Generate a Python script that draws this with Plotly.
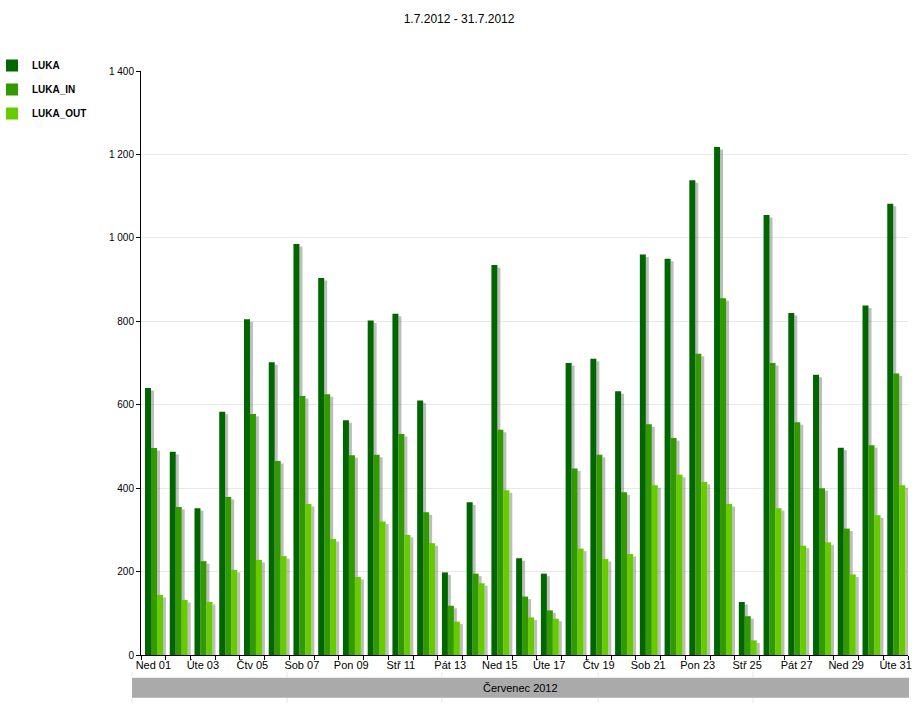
import plotly.graph_objects as go

days = list(range(1, 32))
day_labels = ["Ned 01", "Úte 03", "Čtv 05", "Sob 07", "Pon 09", "Stř 11", "Pát 13", "Ned 15",
              "Úte 17", "Čtv 19", "Sob 21", "Pon 23", "Stř 25", "Pát 27", "Ned 29", "Úte 31"]
label_days = list(range(1, 32, 2))

luka = [640, 487, 352, 583, 805, 702, 985, 904, 563, 802, 818, 610, 198, 366, 935, 232,
        195, 700, 710, 632, 960, 950, 1138, 1218, 127, 1055, 820, 672, 497, 838, 1082]
luka_in = [496, 355, 225, 379, 578, 465, 621, 625, 479, 480, 530, 342, 118, 195, 540, 140,
           107, 447, 480, 390, 553, 520, 722, 855, 93, 700, 558, 400, 303, 503, 675]
luka_out = [144, 132, 127, 204, 228, 237, 362, 278, 187, 320, 288, 268, 80, 172, 395, 90,
            87, 255, 230, 242, 407, 432, 415, 362, 35, 352, 262, 270, 193, 335, 407]

series = [("LUKA", luka, "#006600", -0.338),
          ("LUKA_IN", luka_in, "#339900", -0.096),
          ("LUKA_OUT", luka_out, "#66cc00", 0.146)]
BW = 0.2425

fig = go.Figure()
for name, vals, color, off in series:
    fig.add_trace(go.Bar(
        x=days, y=[max(v - 6, 0) for v in vals], width=0.12, offset=off + BW,
        marker=dict(color="rgba(90,90,90,0.4)", line=dict(width=0)),
        showlegend=False, hoverinfo="skip"))
    fig.add_trace(go.Bar(
        x=days, y=vals, name=name, width=BW, offset=off, legendgroup=name,
        marker=dict(color=color, line=dict(width=0))))

h = 584.0
w = 767.0
fig.update_layout(
    width=920, height=718,
    margin=dict(l=141, r=12, t=71, b=63, autoexpand=False),
    barmode="overlay",
    plot_bgcolor="white", paper_bgcolor="white",
    separators=", ",
    font=dict(family="Liberation Sans, Arial, sans-serif", size=11, color="#000"),
    title=dict(text="1.7.2012 - 31.7.2012", x=0.499, xanchor="center",
               y=1 - 19 / 718, yanchor="middle", yref="container",
               font=dict(size=12, color="#000")),
    legend=dict(x=(-141 - 8) / w, xanchor="left", y=1 + 20 / h, yanchor="top",
                font=dict(size=10, color="#000", family="Liberation Sans, Arial, sans-serif",
                          weight="bold"),
                tracegroupgap=5, bgcolor="rgba(0,0,0,0)", itemwidth=30),
    xaxis=dict(range=[0.5, 31.5], tickmode="array", tickvals=label_days, ticktext=day_labels,
               ticks="", showgrid=False, zeroline=False,
               showline=True, linecolor="#000", linewidth=1,
               tickfont=dict(size=11),
               minor=dict(tickmode="array", tickvals=[d + 0.5 for d in range(0, 32)],
                          ticks="outside", ticklen=4, tickcolor="#000", showgrid=False)),
    yaxis=dict(range=[0, 1400], dtick=200, tick0=0, separatethousands=True,
               showgrid=True, gridcolor="#e8e8e8", gridwidth=1, zeroline=False,
               showline=True, linecolor="#000", linewidth=1,
               ticks="outside", ticklen=4, tickcolor="#000",
               tickfont=dict(size=10)),
)

# month band below axis
fig.add_shape(type="rect", xref="paper", yref="paper",
              x0=(132 - 141) / w, x1=(909 - 141) / w,
              y0=-(697.7 - 655) / h, y1=-(677.7 - 655) / h,
              fillcolor="#aaaaaa", line=dict(width=0), layer="below")
for px in [132, 287, 442, 598, 753]:
    for ya, yb in [(672, 677), (698, 703)]:
        fig.add_shape(type="line", xref="paper", yref="paper",
                      x0=(px - 141) / w, x1=(px - 141) / w,
                      y0=-(yb - 655) / h, y1=-(ya - 655) / h,
                      line=dict(color="#e6e6e6", width=1), layer="below")
fig.add_annotation(text="Červenec 2012", xref="paper", yref="paper",
                   x=(520 - 141) / w, y=-(687.7 - 655) / h, showarrow=False,
                   xanchor="center", yanchor="middle", font=dict(size=11, color="#000"))

fig.write_html("out.html")
